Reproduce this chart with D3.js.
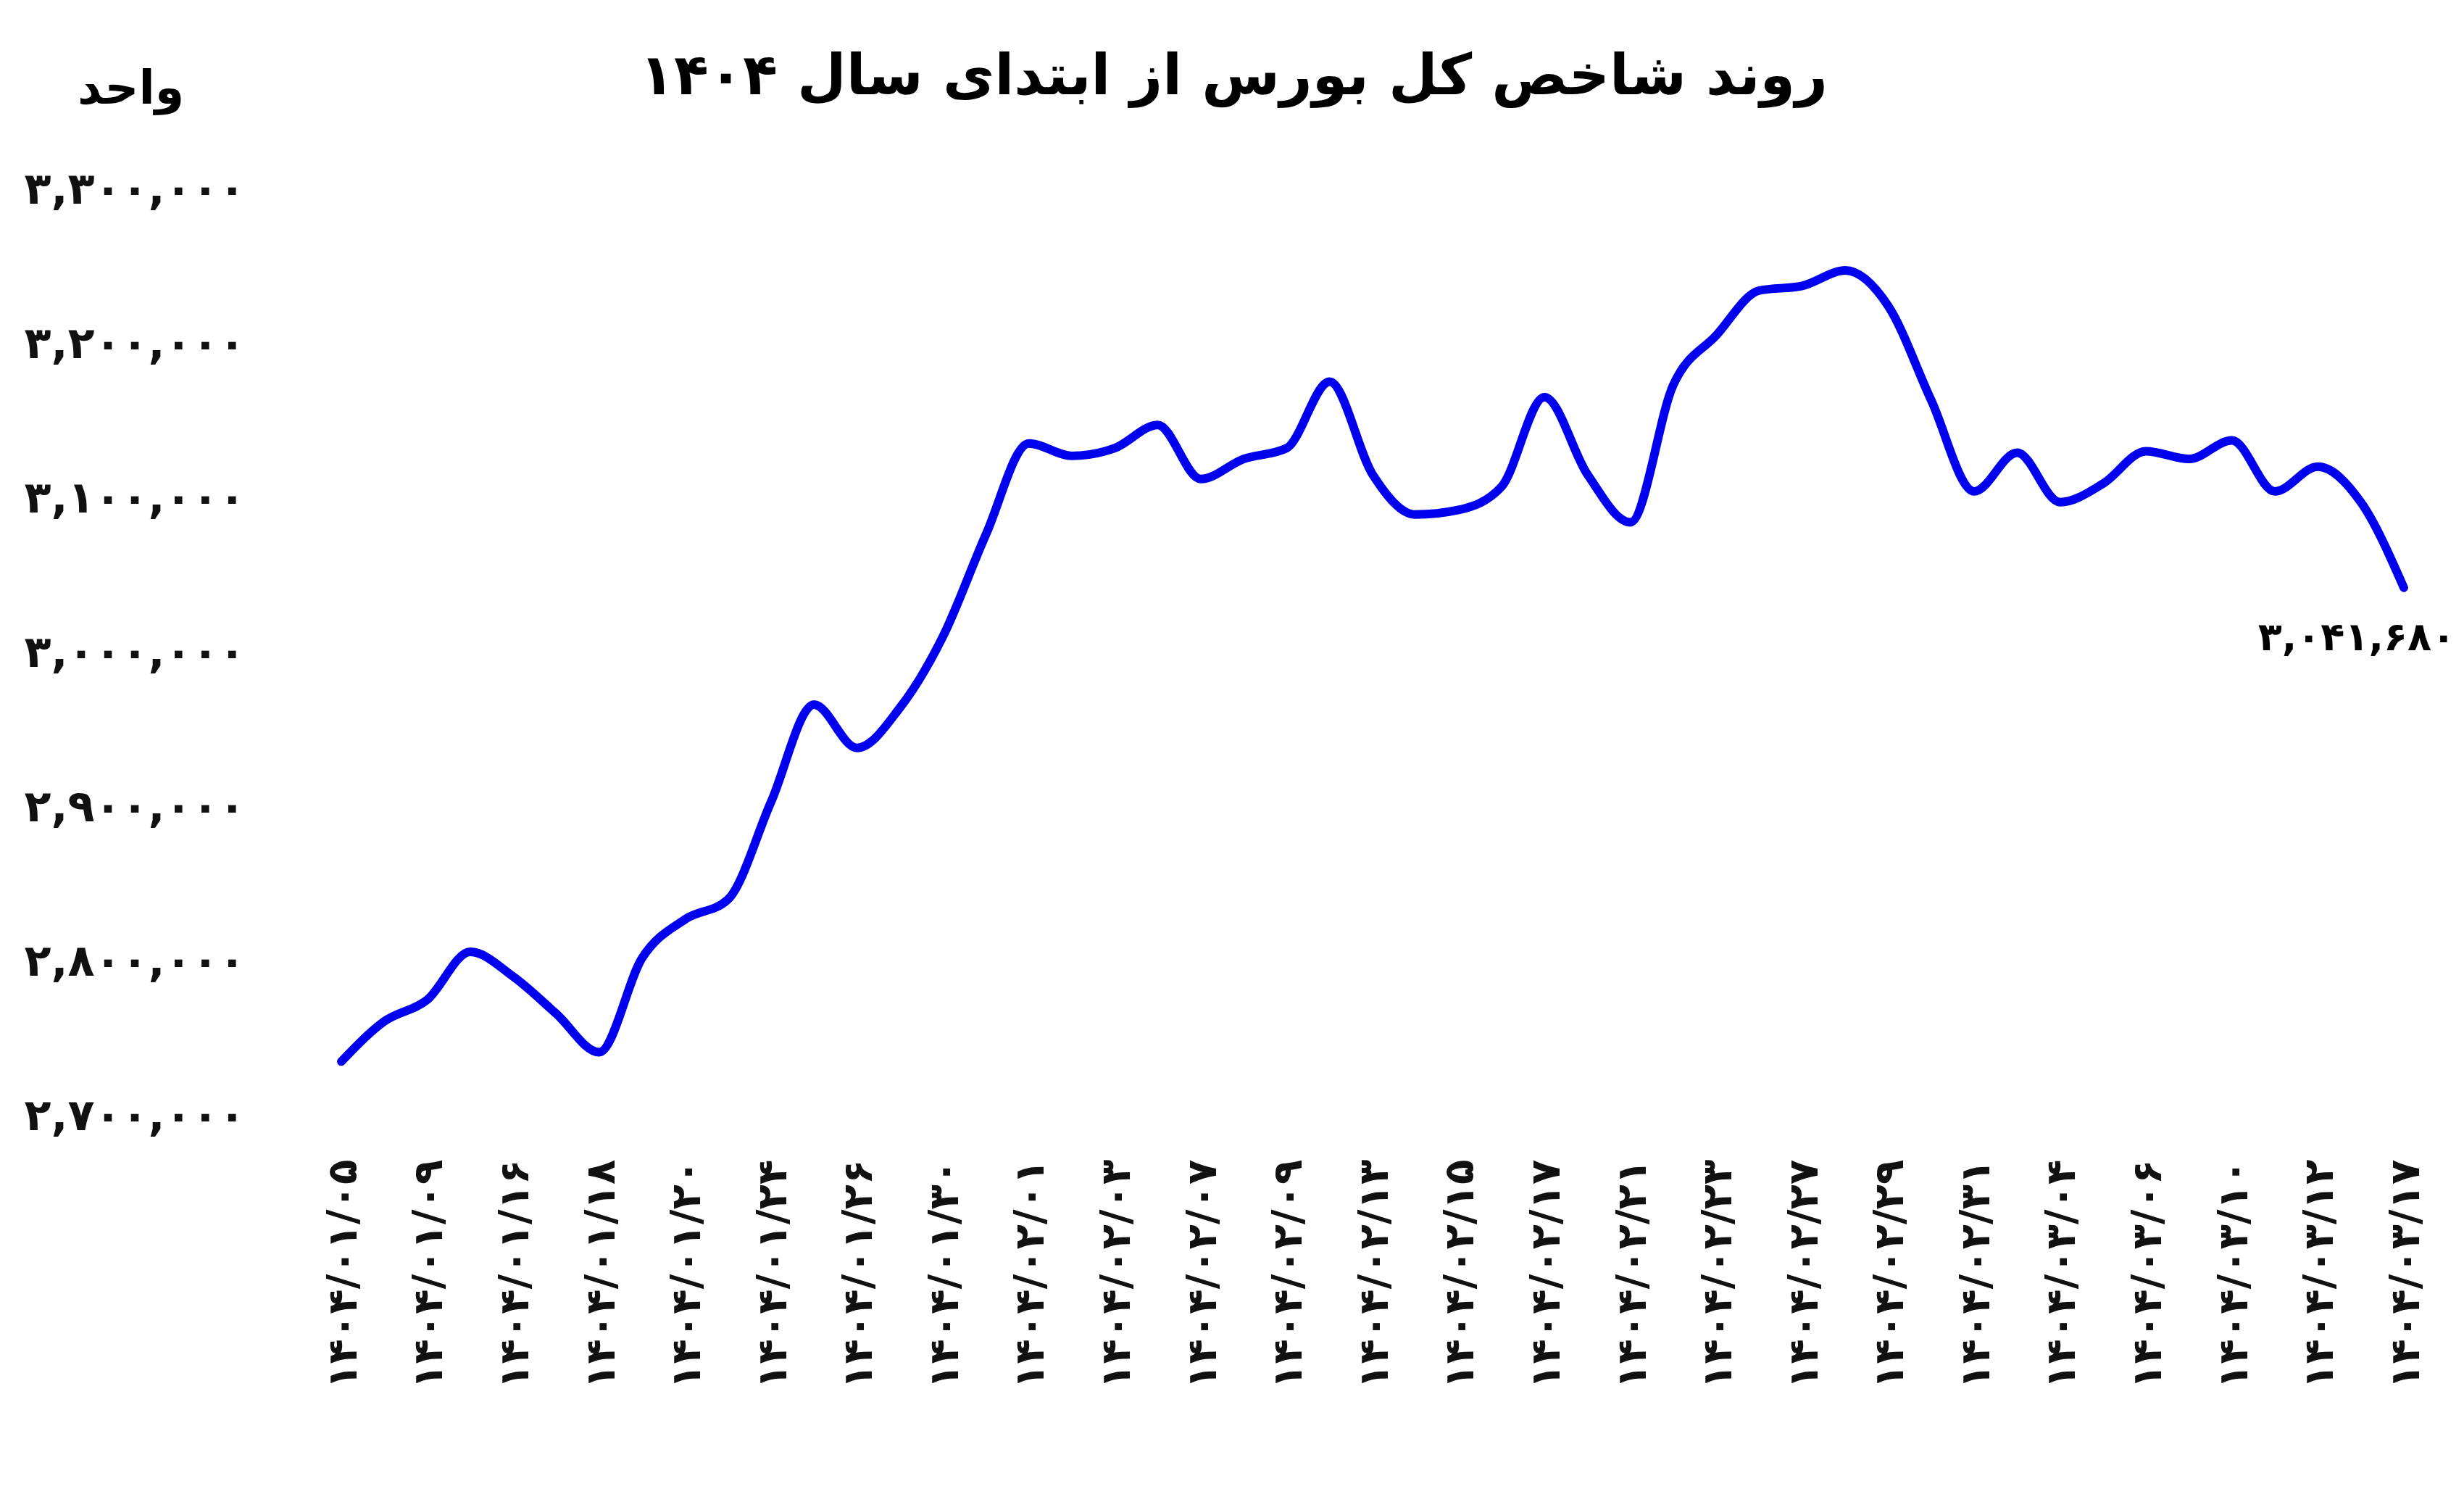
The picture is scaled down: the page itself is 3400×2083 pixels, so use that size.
<!DOCTYPE html>
<html>
<head>
<meta charset="utf-8">
<script src="https://d3js.org/d3.v7.min.js"></script>
<style>
  body { margin: 0; background: #fff; }
  text { font-family: "DejaVu Sans", sans-serif; font-weight: bold; }
</style>
</head>
<body>
<div id="chart"></div>
<script>
// values (one point every half label step)
var values = [2735000, 2761000, 2775000, 2806000, 2790000, 2766000, 2741000, 2802000, 2827000, 2840000,
  2903000, 2966000, 2938000, 2964000, 3010000, 3076000, 3135000, 3127000, 3132000, 3147000,
  3112000, 3125000, 3132000, 3175000, 3115000, 3089000, 3092000, 3107000, 3165000, 3115000,
  3084000, 3173000, 3205000, 3234000, 3237000, 3247000, 3224000, 3163000, 3104000, 3129000,
  3097000, 3109000, 3130000, 3125000, 3137000, 3104000, 3120000, 3097000, 3041680];
var dateLabels = ["1404/01/05", "1404/01/09", "1404/01/16", "1404/01/18", "1404/01/20", "1404/01/24",
  "1404/01/26", "1404/01/30", "1404/02/01", "1404/02/03", "1404/02/07", "1404/02/09", "1404/02/13",
  "1404/02/15", "1404/02/17", "1404/02/21", "1404/02/23", "1404/02/27", "1404/02/29", "1404/02/31",
  "1404/03/04", "1404/03/06", "1404/03/10", "1404/03/12", "1404/03/17"];
var yTicks = [2700000, 2800000, 2900000, 3000000, 3100000, 3200000, 3300000];

function fa(s) {
  return String(s).replace(/[0-9]/g, function(d) { return "۰۱۲۳۴۵۶۷۸۹"[+d]; });
}
var fmt = function(v) { return fa(d3.format(",")(v)); };

var W = 1568, H = 961;
var svg = d3.select("#chart").append("svg")
  .attr("width", 3400).attr("height", 2083)
  .attr("viewBox", "0 0 " + W + " " + H);

var x = d3.scaleLinear().domain([0, values.length - 1]).range([217, 1530]);
var y = d3.scaleLinear().domain([2700000, 3300000]).range([710, 120]);

svg.append("text").attr("x", 785).attr("y", 60).attr("text-anchor", "middle")
  .style("font-size", "36px").attr("direction", "rtl")
  .text("روند شاخص کل بورس از ابتدای سال " + fa(1404));
svg.append("text").attr("x", 83).attr("y", 66).attr("text-anchor", "middle")
  .style("font-size", "30px").text("واحد");

// y axis labels
var yAxis = svg.append("g").attr("transform", "translate(156,0)")
  .call(d3.axisLeft(y).tickValues(yTicks).tickFormat(fmt).tickSize(0).tickPadding(0));
yAxis.select(".domain").remove();
yAxis.selectAll("text").style("font-size", "28px").style("font-family", "DejaVu Sans")
  .style("font-weight", "bold").attr("fill", "#111");

// x labels (every other point), rotated to read bottom-to-top
var xAxis = svg.append("g").attr("transform", "translate(0,738)")
  .call(d3.axisBottom(x).tickValues(d3.range(0, values.length, 2))
    .tickFormat(function(i) { return fa(dateLabels[i / 2]); }).tickSize(0).tickPadding(0));
xAxis.select(".domain").remove();
xAxis.selectAll("text")
  .style("font-size", "26px").style("font-family", "DejaVu Sans").style("font-weight", "bold")
  .attr("fill", "#111")
  .attr("text-anchor", "end").attr("dy", "0.35em").attr("y", 0).attr("x", 0)
  .attr("transform", "rotate(-90)");

var line = d3.line().x(function(d, i) { return x(i); }).y(function(d) { return y(d); })
  .curve(d3.curveMonotoneX);
svg.append("path").datum(values).attr("d", line)
  .attr("fill", "none").attr("stroke", "#0000ee").attr("stroke-width", 5.5)
  .attr("stroke-linecap", "round").attr("stroke-linejoin", "round");

var last = values.length - 1;
svg.append("text").attr("x", 1500).attr("y", y(values[last]) + 40)
  .attr("text-anchor", "middle").style("font-size", "25px").text(fmt(values[last]));
</script>
</body>
</html>
